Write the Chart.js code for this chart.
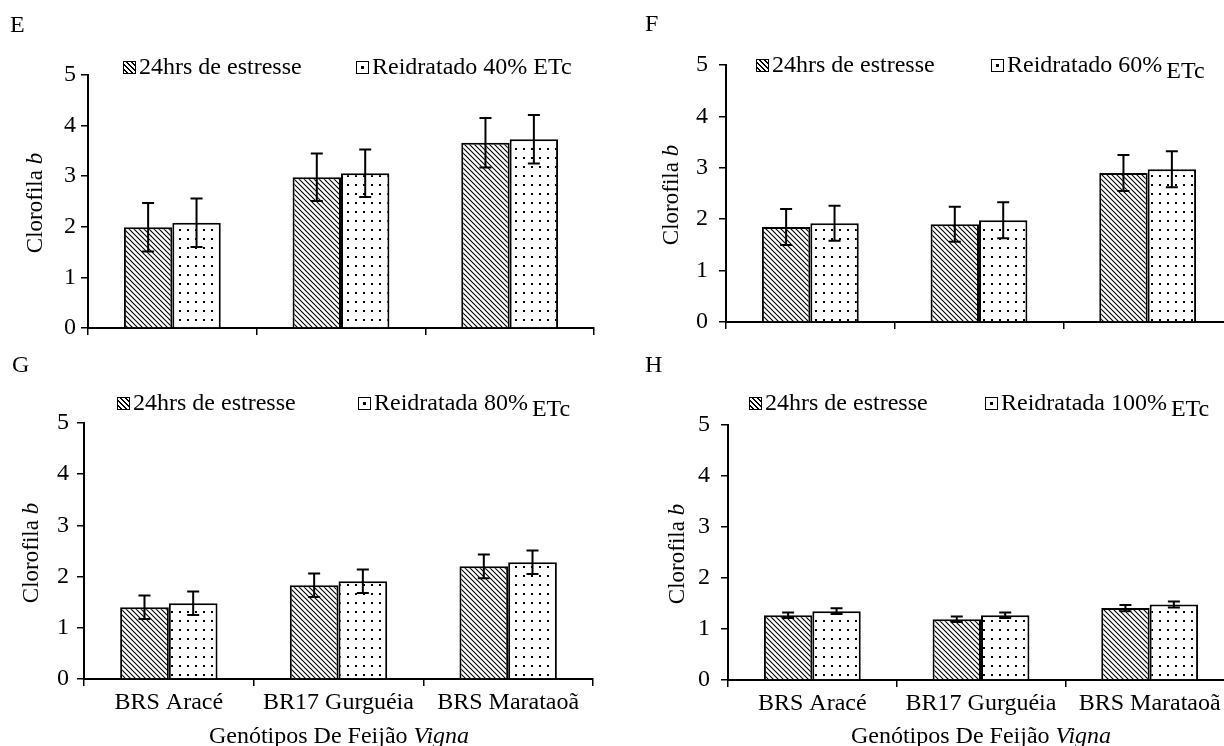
<!DOCTYPE html>
<html>
<head>
<meta charset="utf-8">
<script src="https://cdn.jsdelivr.net/npm/chart.js@4"></script>
<style>
  html, body { margin: 0; padding: 0; background: #fff; overflow: hidden; }
  body { width: 1224px; height: 746px; position: relative; font-family: "Liberation Serif", "Times New Roman", serif; color: #000; }
  .panel { position: absolute; }
  .txt { position: absolute; font-size: 24px; line-height: 24px; white-space: nowrap; }
  .ytitle { position: absolute; font-size: 23px; line-height: 23px; white-space: nowrap; transform: translate(-50%, -50%) rotate(-90deg); }
  .xtitle { position: absolute; font-size: 24px; line-height: 24px; white-space: nowrap; transform: translate(-50%, -50%); }
  .sw { display: inline-block; width: 11px; height: 11px; border: 1.5px solid #000; vertical-align: 0px; margin-right: 3px; box-sizing: content-box; }
  .sw.hatch { background: repeating-linear-gradient(45deg, #fff 0 2px, #000 2px 3.5px); }
  .sw.dots { background: radial-gradient(circle, #000 0 1.4px, #fff 1.6px); }
  .low { position: relative; top: 6px; margin-left: 4px; }
</style>
</head>
<body>
<script>
const genotypes = ["BRS Aracé", "BR17 Gurguéia", "BRS Marataoã"];
const stressLabel = "24hrs de estresse";
const rehydLabels = ["Reidratado 40% ETc", "Reidratado 60%", "Reidratada 80%", "Reidratada 100%"];
const yTicks = [0, 1, 2, 3, 4, 5];

// E - 40% ETc
const stressE = [1.99, 2.98, 3.66];
const stressErrE = [0.48, 0.47, 0.49];
const rehydE = [2.08, 3.06, 3.73];
const rehydErrE = [0.48, 0.47, 0.48];
// F - 60% ETc
const stressF = [1.85, 1.90, 2.90];
const stressErrF = [0.35, 0.34, 0.35];
const rehydF = [1.92, 1.98, 2.97];
const rehydErrF = [0.34, 0.35, 0.35];
// G - 80% ETc
const stressG = [1.40, 1.83, 2.20];
const stressErrG = [0.23, 0.23, 0.23];
const rehydG = [1.48, 1.91, 2.28];
const rehydErrG = [0.23, 0.23, 0.23];
// H - 100% ETc
const stressH = [1.27, 1.19, 1.41];
const stressErrH = [0.055, 0.055, 0.06];
const rehydH = [1.35, 1.27, 1.48];
const rehydErrH = [0.055, 0.055, 0.06];

const FONT = "'Liberation Serif', 'Times New Roman', serif";

function makeHatch() {
  const s = 5;
  const c = document.createElement("canvas");
  c.width = s; c.height = s;
  const g = c.getContext("2d");
  g.fillStyle = "#fff";
  g.fillRect(0, 0, s, s);
  g.strokeStyle = "#000";
  g.lineWidth = 1.1;
  g.beginPath();
  g.moveTo(-1, -1); g.lineTo(s + 1, s + 1);
  g.moveTo(-1, s - 1); g.lineTo(1, s + 1);
  g.moveTo(s - 1, -1); g.lineTo(s + 1, 1);
  g.stroke();
  return g.createPattern(c, "repeat");
}

function makeDots() {
  const c = document.createElement("canvas");
  c.width = 8; c.height = 9;
  const g = c.getContext("2d");
  g.fillStyle = "#fff";
  g.fillRect(0, 0, 8, 9);
  g.fillStyle = "#000";
  g.fillRect(3, 4, 2, 2);
  return g.createPattern(c, "repeat");
}

const errorBars = {
  id: "errorBars",
  afterDatasetsDraw(chart) {
    const ctx = chart.ctx;
    const ys = chart.scales.y;
    ctx.save();
    ctx.strokeStyle = "#000";
    ctx.lineWidth = 2;
    chart.data.datasets.forEach((ds, i) => {
      chart.getDatasetMeta(i).data.forEach((bar, j) => {
        const v = ds.data[j], e = ds.errors[j];
        const top = ys.getPixelForValue(v + e);
        const bot = ys.getPixelForValue(v - e);
        ctx.beginPath();
        ctx.moveTo(bar.x, top); ctx.lineTo(bar.x, bot);
        ctx.moveTo(bar.x - 6, top); ctx.lineTo(bar.x + 6, top);
        ctx.moveTo(bar.x - 6, bot); ctx.lineTo(bar.x + 6, bot);
        ctx.stroke();
      });
    });
    ctx.restore();
  }
};

function addText(cls, x, y, html) {
  const d = document.createElement("div");
  d.className = cls;
  d.style.left = x + "px";
  d.style.top = y + "px";
  d.innerHTML = html;
  document.body.appendChild(d);
}

function makePanel(p) {
  const wrap = document.createElement("div");
  wrap.className = "panel";
  wrap.style.left = p.left + "px";
  wrap.style.top = p.top + "px";
  const cv = document.createElement("canvas");
  cv.width = p.w; cv.height = p.h;
  wrap.appendChild(cv);
  document.body.appendChild(wrap);

  new Chart(cv.getContext("2d"), {
    type: "bar",
    data: {
      labels: genotypes,
      datasets: [
        { label: stressLabel, data: p.stress, errors: p.stressErr, backgroundColor: makeHatch(), borderColor: "#000", borderWidth: 2 },
        { label: p.rehyd, data: p.rehydV, errors: p.rehydErr, backgroundColor: makeDots(), borderColor: "#000", borderWidth: 2 }
      ]
    },
    options: {
      responsive: false,
      animation: false,
      devicePixelRatio: 1,
      layout: { padding: p.pad },
      datasets: { bar: { categoryPercentage: 0.574, barPercentage: 1 } },
      plugins: { legend: { display: false }, tooltip: { enabled: false } },
      scales: {
        x: {
          offset: true,
          afterFit: (s) => { s.height = p.xh; },
          grid: { offset: true, drawOnChartArea: false, tickLength: 7, color: "#000", lineWidth: 1.5 },
          border: { color: "#000", width: 2 },
          ticks: { display: p.showX, color: "#000", font: { family: FONT, size: 24 }, padding: 2, maxRotation: 0 }
        },
        y: {
          min: 0,
          max: 5,
          afterFit: (s) => { s.width = p.yw; },
          afterBuildTicks: (s) => { s.ticks = yTicks.map(v => ({ value: v })); },
          grid: { drawOnChartArea: false, tickLength: 7, color: "#000", lineWidth: 1.5 },
          border: { color: "#000", width: 2 },
          ticks: { color: "#000", font: { family: FONT, size: 24 }, padding: p.tp }
        }
      }
    },
    plugins: [errorBars]
  });
}

// E
makePanel({ left: 0, top: 0, w: 612, h: 373, yw: 48, xh: 10, tp: 5, showX: false,
  pad: { left: 40, right: 18, top: 75, bottom: 35 },
  stress: stressE, stressErr: stressErrE, rehyd: rehydLabels[0], rehydV: rehydE, rehydErr: rehydErrE });
// F
makePanel({ left: 612, top: 0, w: 640, h: 373, yw: 54, xh: 10, tp: 11, showX: false,
  pad: { left: 60, right: 20, top: 65, bottom: 41 },
  stress: stressF, stressErr: stressErrF, rehyd: rehydLabels[1], rehydV: rehydF, rehydErr: rehydErrF });
// G
makePanel({ left: 0, top: 373, w: 612, h: 373, yw: 54, xh: 60, tp: 8, showX: true,
  pad: { left: 30, right: 19, top: 50, bottom: 7 },
  stress: stressG, stressErr: stressErrG, rehyd: rehydLabels[2], rehydV: rehydG, rehydErr: rehydErrG });
// H
makePanel({ left: 612, top: 373, w: 640, h: 373, yw: 56, xh: 60, tp: 11, showX: true,
  pad: { left: 60, right: 18, top: 52, bottom: 6 },
  stress: stressH, stressErr: stressErrH, rehyd: rehydLabels[3], rehydV: rehydH, rehydErr: rehydErrH });

// panel letters
addText("txt", 10, 12, "E");
addText("txt", 645, 11, "F");
addText("txt", 12, 352, "G");
addText("txt", 645, 352, "H");

// legends
addText("txt", 123, 54, '<span class="sw hatch"></span>' + stressLabel);
addText("txt", 356, 54, '<span class="sw dots"></span>' + rehydLabels[0]);
addText("txt", 756, 52, '<span class="sw hatch"></span>' + stressLabel);
addText("txt", 991, 52, '<span class="sw dots"></span>' + rehydLabels[1] + '<span class="low">ETc</span>');
addText("txt", 117, 390, '<span class="sw hatch"></span>' + stressLabel);
addText("txt", 358, 390, '<span class="sw dots"></span>' + rehydLabels[2] + '<span class="low">ETc</span>');
addText("txt", 749, 390, '<span class="sw hatch"></span>' + stressLabel);
addText("txt", 985, 390, '<span class="sw dots"></span>' + rehydLabels[3] + '<span class="low">ETc</span>');

// axis titles
addText("ytitle", 34, 203, "Clorofila <i>b</i>");
addText("ytitle", 670, 195, "Clorofila <i>b</i>");
addText("ytitle", 30, 553, "Clorofila <i>b</i>");
addText("ytitle", 676, 554, "Clorofila <i>b</i>");
addText("xtitle", 339, 735, "Genótipos De Feijão <i>Vigna</i>");
addText("xtitle", 981, 735, "Genótipos De Feijão <i>Vigna</i>");
</script>
</body>
</html>
